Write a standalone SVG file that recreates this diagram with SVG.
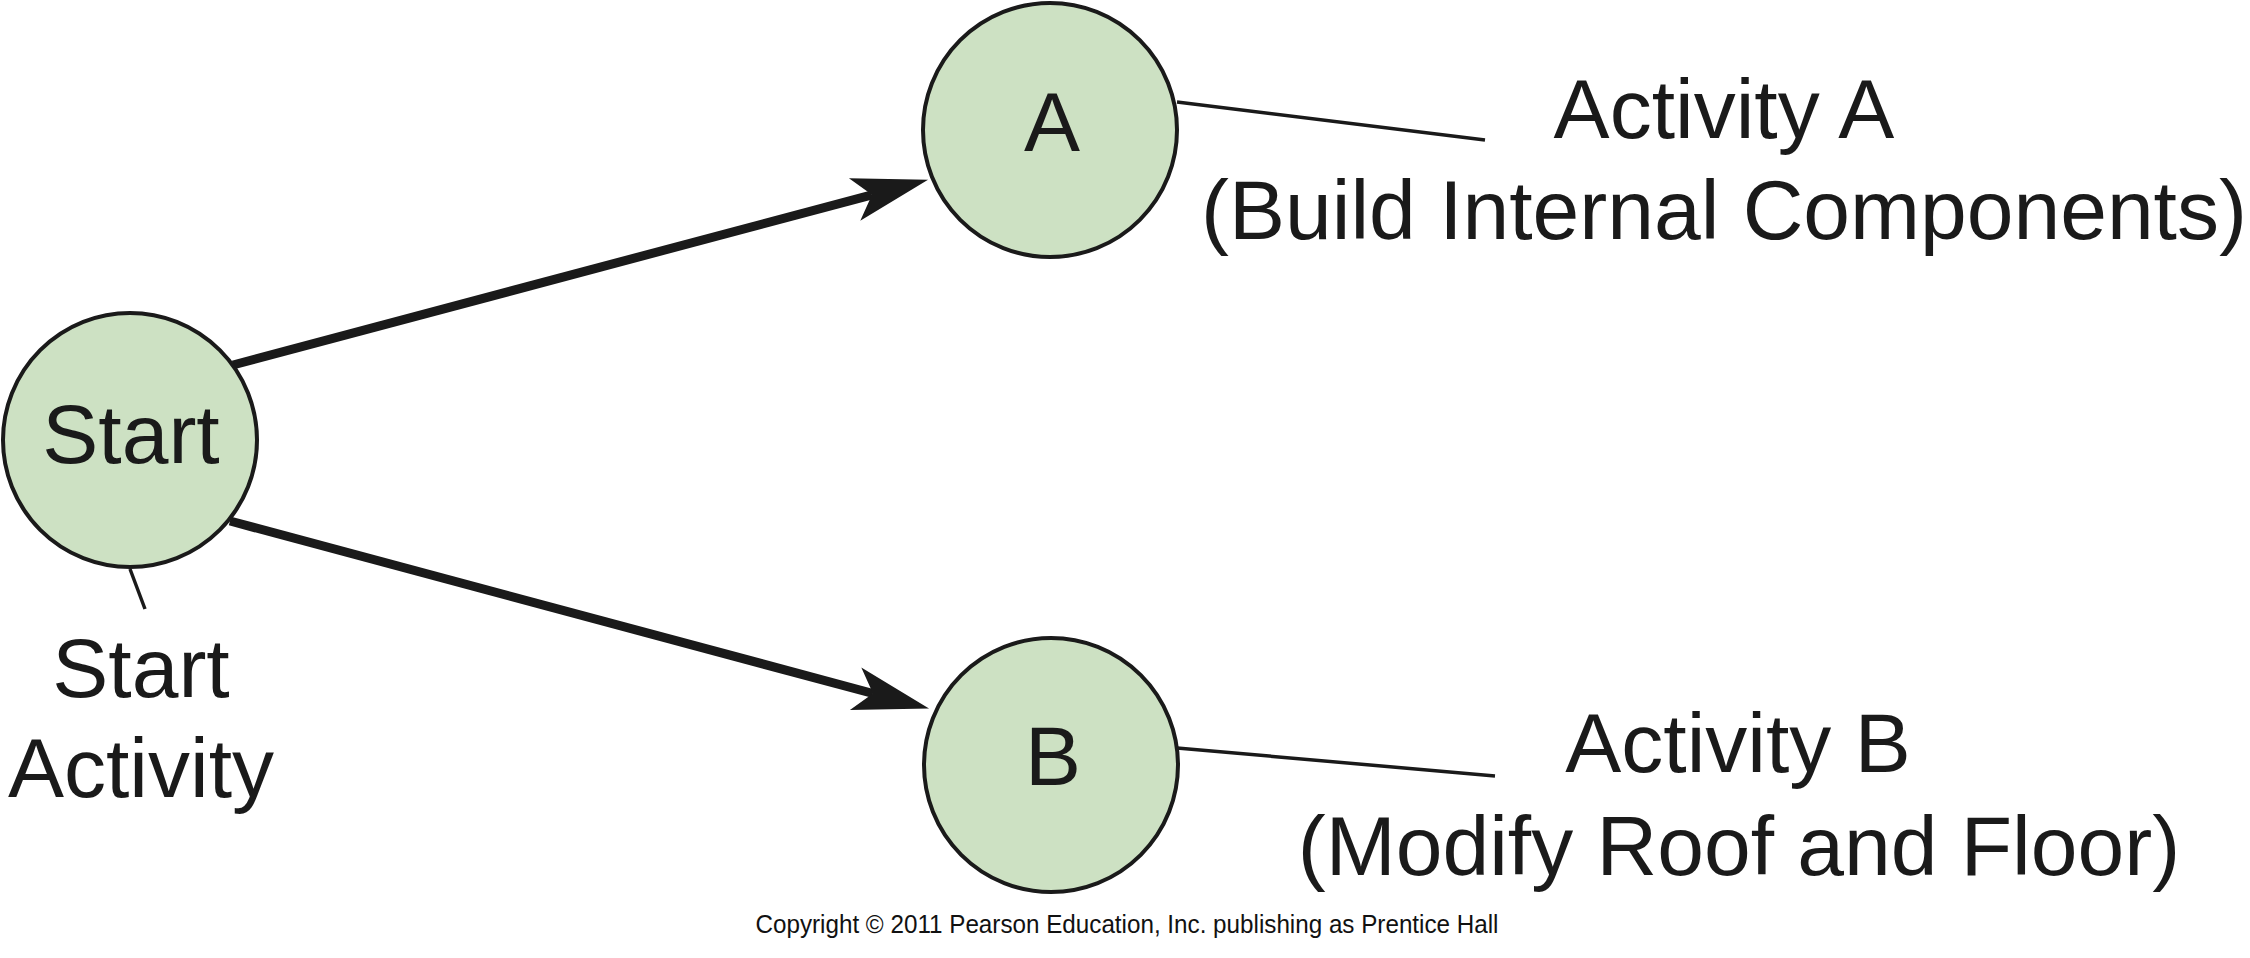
<svg xmlns="http://www.w3.org/2000/svg" width="2250" height="958" viewBox="0 0 2250 958">
<style>
.node{fill:#cde1c3;stroke:#1a1a1a;stroke-width:4}
.lbl{font-family:"Liberation Sans",Arial,Helvetica,sans-serif;font-size:84px;fill:#1a1a1a;text-anchor:middle}
.arrow{stroke:#1a1a1a;stroke-width:9;fill:none}
.leader{stroke:#1a1a1a;stroke-width:3.5;fill:none}
.copy{font-family:"Liberation Sans",Arial,Helvetica,sans-serif;font-size:25px;fill:#111;text-anchor:middle}
</style>
<defs>
<marker id="head" markerUnits="userSpaceOnUse" viewBox="-20 -25 80 50" markerWidth="80" markerHeight="50" refX="0" refY="0" orient="auto" overflow="visible">
<path d="M58,0 L-18,-22 L0,0 L-18,22 Z" fill="#1a1a1a"/>
</marker>
</defs>
<rect width="2250" height="958" fill="#fff"/>
<g id="connectors">
<line class="arrow" x1="233" y1="365" x2="872" y2="194.8" marker-end="url(#head)"/>
<line class="arrow" x1="230" y1="521" x2="873" y2="693.5" marker-end="url(#head)"/>
<line class="leader" x1="130" y1="569" x2="145" y2="609"/>
<line class="leader" x1="1177" y1="102" x2="1485" y2="140"/>
<line class="leader" x1="1177" y1="748" x2="1495" y2="776"/>
</g>
<g id="node-start">
<circle class="node" cx="130" cy="440" r="127"/>
<text class="lbl" x="131" y="463">Start</text>
</g>
<g id="node-a">
<circle class="node" cx="1050" cy="130" r="127"/>
<text class="lbl" x="1052" y="151">A</text>
</g>
<g id="node-b">
<circle class="node" cx="1051" cy="765" r="127"/>
<text class="lbl" x="1053" y="785">B</text>
</g>
<g id="label-start">
<text class="lbl" x="141" y="697">Start</text>
<text class="lbl" x="141" y="797">Activity</text>
</g>
<g id="label-a">
<text class="lbl" x="1724" y="138">Activity A</text>
<text class="lbl" x="1724" y="239">(Build Internal Components)</text>
</g>
<g id="label-b">
<text class="lbl" x="1738" y="772">Activity B</text>
<text class="lbl" x="1739" y="875">(Modify Roof and Floor)</text>
</g>
<text class="copy" x="1127" y="933" textLength="743" lengthAdjust="spacingAndGlyphs">Copyright © 2011 Pearson Education, Inc. publishing as Prentice Hall</text>
</svg>
